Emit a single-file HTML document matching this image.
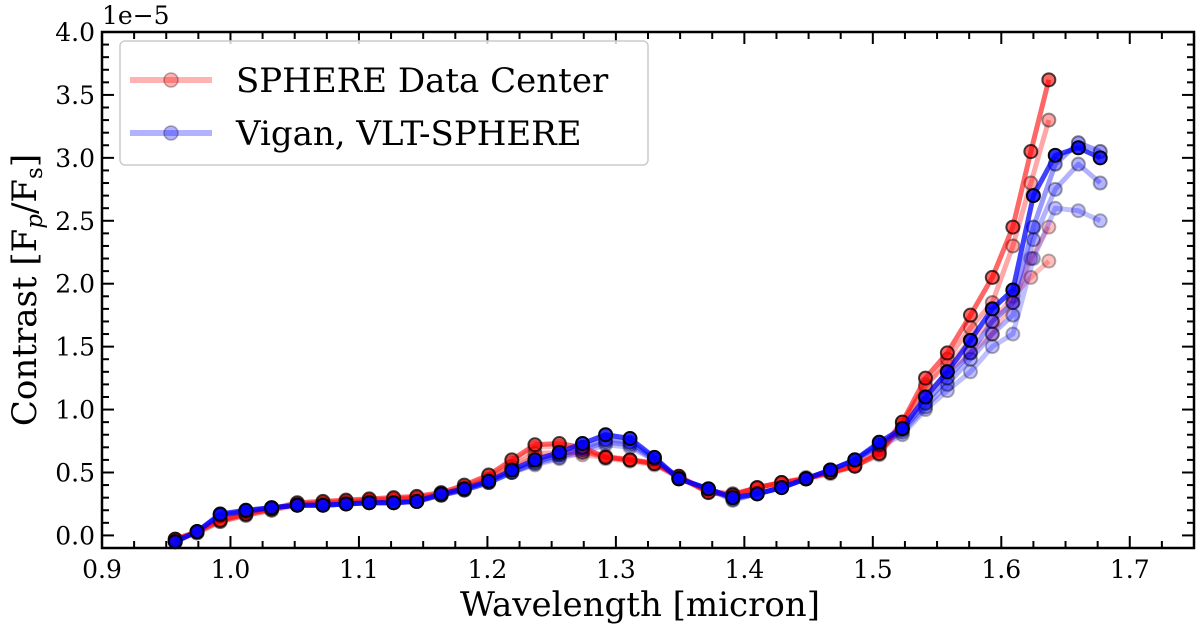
<!DOCTYPE html>
<html><head><meta charset="utf-8"><style>
body{margin:0;background:#fff}
svg{display:block;font-family:"DejaVu Serif","Liberation Serif",serif}
</style></head><body>
<svg id="c" width="1200" height="628" viewBox="0 0 1200 628"></svg>
<script>
const redWl=[0.957,0.974,0.992,1.012,1.032,1.052,1.072,1.090,1.108,1.127,1.145,1.164,1.182,1.201,1.219,1.237,1.256,1.274,1.292,1.311,1.330,1.349,1.372,1.391,1.410,1.429,1.448,1.467,1.486,1.505,1.523,1.541,1.558,1.576,1.593,1.609,1.623,1.637];
const redMain=[-0.03,0.03,0.12,0.17,0.21,0.26,0.27,0.28,0.29,0.30,0.31,0.34,0.40,0.48,0.60,0.72,0.73,0.70,0.62,0.60,0.57,0.47,0.34,0.32,0.38,0.42,0.45,0.50,0.55,0.65,0.90,1.25,1.45,1.75,2.05,2.45,3.05,3.62];
const redVarA=[-0.03,0.02,0.11,0.16,0.20,0.25,0.26,0.27,0.28,0.29,0.30,0.33,0.38,0.45,0.55,0.65,0.66,0.66,0.63,0.60,0.58,0.47,0.35,0.33,0.38,0.42,0.46,0.50,0.56,0.68,0.90,1.18,1.40,1.65,1.85,2.30,2.80,3.30];
const redVarB=[-0.03,0.02,0.11,0.16,0.20,0.24,0.25,0.26,0.27,0.28,0.29,0.32,0.37,0.44,0.54,0.62,0.64,0.64,0.62,0.60,0.57,0.46,0.35,0.33,0.37,0.41,0.45,0.49,0.55,0.66,0.85,1.10,1.30,1.45,1.60,1.85,2.20,2.45];
const redVarC=[-0.03,0.03,0.12,0.17,0.21,0.25,0.26,0.27,0.28,0.29,0.30,0.33,0.39,0.47,0.58,0.70,0.71,0.68,0.61,0.59,0.56,0.46,0.34,0.32,0.38,0.42,0.45,0.50,0.55,0.64,0.88,1.20,1.35,1.55,1.70,1.90,2.05,2.18];
const blueWl=[0.957,0.974,0.992,1.012,1.032,1.052,1.072,1.090,1.108,1.127,1.145,1.164,1.182,1.201,1.219,1.237,1.256,1.274,1.292,1.311,1.330,1.349,1.372,1.391,1.410,1.429,1.448,1.467,1.486,1.505,1.523,1.541,1.558,1.576,1.593,1.609,1.625,1.642,1.660,1.677];
const blueMain=[-0.05,0.03,0.17,0.20,0.22,0.24,0.24,0.25,0.26,0.26,0.27,0.33,0.37,0.43,0.52,0.60,0.66,0.73,0.80,0.77,0.62,0.45,0.37,0.30,0.33,0.38,0.45,0.52,0.60,0.74,0.85,1.10,1.30,1.55,1.80,1.95,2.70,3.02,3.08,3.00];
const blueVarA=[-0.05,0.03,0.16,0.19,0.22,0.24,0.24,0.25,0.26,0.26,0.27,0.32,0.36,0.42,0.50,0.58,0.64,0.70,0.76,0.74,0.61,0.45,0.37,0.28,0.33,0.38,0.45,0.52,0.60,0.72,0.84,1.05,1.25,1.45,1.70,1.85,2.45,2.95,3.12,3.05];
const blueVarB=[-0.05,0.03,0.16,0.19,0.22,0.24,0.24,0.25,0.26,0.26,0.27,0.32,0.36,0.42,0.50,0.57,0.62,0.68,0.74,0.72,0.60,0.45,0.37,0.29,0.33,0.38,0.45,0.52,0.60,0.72,0.82,1.02,1.20,1.40,1.60,1.75,2.35,2.75,2.95,2.80];
const blueVarC=[-0.05,0.03,0.16,0.19,0.22,0.24,0.24,0.25,0.26,0.26,0.27,0.32,0.36,0.42,0.50,0.56,0.61,0.66,0.72,0.70,0.60,0.45,0.37,0.30,0.33,0.38,0.45,0.52,0.60,0.70,0.80,1.00,1.15,1.30,1.50,1.60,2.20,2.60,2.58,2.50];
const xTicks=[0.9,1.0,1.1,1.2,1.3,1.4,1.5,1.6,1.7];
const yTicks=[0.0,0.5,1.0,1.5,2.0,2.5,3.0,3.5,4.0];

const L=102,R=1194,T=32,B=548,X0=0.9,X1=1.75,Y0=-0.1,Y1=4.0;
const sx=v=>L+(v-X0)/(X1-X0)*(R-L);
const sy=v=>B-(v-Y0)/(Y1-Y0)*(B-T);
const svg=document.getElementById('c');
const NS='http://www.w3.org/2000/svg';
function mk(tag,attrs,parent){const e=document.createElementNS(NS,tag);for(const k in attrs)e.setAttribute(k,attrs[k]);(parent||svg).appendChild(e);return e;}

function series(wl,vals,col,lineOp,markOp,name){
  const g=mk('g',{});
  
  
  mk('polyline',{points:wl.map((w,i)=>sx(w)+','+sy(vals[i])).join(' '),fill:'none',stroke:col,'stroke-width':5,'stroke-opacity':lineOp,'stroke-linejoin':'round'},g);
  wl.forEach((w,i)=>{
    const c=mk('circle',{cx:sx(w),cy:sy(vals[i]),r:6.5,fill:col,'fill-opacity':markOp,stroke:'#000','stroke-opacity':Math.min(1,markOp*1.2),'stroke-width':2},g);
    
    
  });
}
series(redWl,redVarC,'#f00',0.25,0.25,'red-variant-c');
series(redWl,redVarB,'#f00',0.25,0.25,'red-variant-b');
series(redWl,redVarA,'#f00',0.35,0.35,'red-variant-a');
series(blueWl,blueVarC,'#00f',0.25,0.25,'blue-variant-c');
series(blueWl,blueVarB,'#00f',0.3,0.3,'blue-variant-b');
series(redWl,redMain,'#f00',0.6,0.6,'red-series-main');
series(blueWl,blueVarA,'#00f',0.4,0.4,'blue-variant-a');
series(blueWl,blueMain,'#00f',0.75,0.8,'blue-series-main');

const fr=mk('rect',{x:L,y:T,width:R-L,height:B-T,fill:'none',stroke:'#000','stroke-width':2.5});


for(let v=0.9;v<=1.751;v+=0.025){
  const major=Math.abs(Math.round(v*10)-v*10)<1e-6;
  const len=major?12:7,x=sx(v);
  mk('line',{x1:x,y1:B,x2:x,y2:B-len,stroke:'#000','stroke-width':2});
  mk('line',{x1:x,y1:T,x2:x,y2:T+len,stroke:'#000','stroke-width':2});
}
xTicks.forEach(v=>{
  const t=mk('text',{x:sx(v),y:B+30,'text-anchor':'middle','font-size':25});
  t.textContent=v.toFixed(1);
  
  
});
for(let v=-0.1;v<=4.001;v+=0.1){
  const major=Math.abs(Math.round(v*2)-v*2)<1e-6;
  const len=major?12:7,y=sy(v);
  mk('line',{x1:L,y1:y,x2:L+len,y2:y,stroke:'#000','stroke-width':2});
  mk('line',{x1:R,y1:y,x2:R-len,y2:y,stroke:'#000','stroke-width':2});
}
yTicks.forEach(v=>{
  const t=mk('text',{x:L-7,y:sy(v)+9,'text-anchor':'end','font-size':25});
  t.textContent=v.toFixed(1);
  
  
});
const off=mk('text',{x:L,y:24,'font-size':25});
off.textContent='1e\u22125';


const xl=mk('text',{x:640,y:616,'text-anchor':'middle','font-size':34});
xl.textContent='Wavelength [micron]';


const yl=mk('text',{x:0,y:0,'text-anchor':'middle','font-size':34,transform:'translate(36,290) rotate(-90)'});
yl.innerHTML='Contrast [F<tspan font-size="23" dy="6" font-style="italic">p</tspan><tspan dy="-6">/F</tspan><tspan font-size="23" dy="6">s</tspan><tspan dy="-6">]</tspan>';



const lg=mk('g',{});


mk('rect',{x:120,y:41,width:528,height:124,rx:5,fill:'#fff','fill-opacity':0.8,stroke:'#ccc','stroke-width':1.5},lg);
[['SPHERE Data Center','#f00',80,'legend-entry-sphere'],['Vigan, VLT-SPHERE','#00f',133,'legend-entry-vigan']].forEach(([txt,col,y,nm])=>{
  const e=mk('g',{},lg);
  
  
  mk('line',{x1:130,y1:y,x2:212,y2:y,stroke:col,'stroke-width':6,'stroke-opacity':0.3},e);
  mk('circle',{cx:171,cy:y,r:7,fill:col,'fill-opacity':0.3,stroke:'#000','stroke-opacity':0.3,'stroke-width':1.5},e);
  const t=mk('text',{x:236,y:y+12,'font-size':34},e);
  t.textContent=txt;
});
</script>
</body></html>
